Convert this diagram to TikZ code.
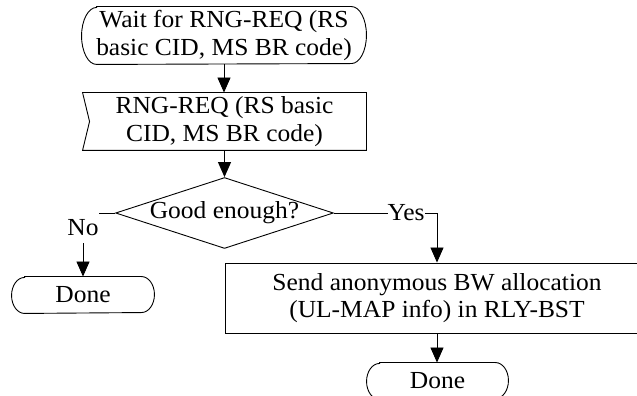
\documentclass[tikz,border=0pt]{standalone}
\usepackage{fontspec}
\setmainfont{Liberation Serif}[FakeStretch=1.04]
\usetikzlibrary{arrows.meta,shapes.geometric}
\newcommand\termpath[3]{\draw ([xshift=#2]#1.north west) -- ([xshift=-#2]#1.north east) arc[start angle=90,end angle=-90,x radius=#2,y radius=#3] -- ([xshift=#2]#1.south west) arc[start angle=270,end angle=90,x radius=#2,y radius=#3] -- cycle;}
\begin{document}
\begin{tikzpicture}[x=1pt,y=1pt,line width=0.9pt,
  txt/.style={font=\fontsize{24.5}{27.5}\selectfont, align=center, inner sep=0pt},
  arr/.style={-{Triangle[length=15pt,width=13pt]}},
  lbl/.style={fill=white, inner sep=0pt, font=\fontsize{24.5}{27.5}\selectfont}]
\useasboundingbox (0,0) rectangle (637,396);
% start terminal
\node[txt, minimum width=284pt, minimum height=57pt] (wait) at (224,360.5) {Wait for RNG-REQ (RS\\basic CID, MS BR code)};
\termpath{wait}{15pt}{28.5pt}
% receive flag
\node[txt, minimum width=283pt, minimum height=57pt] (recv) at (224.5,274.5) {RNG-REQ (RS basic\\CID, MS BR code)};
\draw (recv.north west) -- (recv.north east) -- (recv.south east) -- (recv.south west) -- ([xshift=7pt]recv.west) -- cycle;
% decision
\node[txt, diamond, draw, aspect=3.07, minimum width=215pt, minimum height=70pt] (dec) at (224.5,183) {Good enough?};
% left done
\node[txt, minimum width=142pt, minimum height=36pt] (ldone) at (83,101) {Done};
\termpath{ldone}{13pt}{18pt}
% send box
\node[txt, draw, minimum width=424pt, minimum height=70pt] (send) at (437,98) {Send anonymous BW allocation\\(UL-MAP info) in RLY-BST};
% right done
\node[txt, minimum width=141pt, minimum height=36pt] (rdone) at (437.5,15) {Done};
\termpath{rdone}{13pt}{18pt}
% connectors
\draw[arr] (wait.south) -- (wait.south |- recv.north);
\draw[arr] (recv.south) -- (recv.south |- dec.north);
\draw[arr] (dec.west) -| node[lbl, pos=0.613, minimum height=32pt] (nolbl) {No} (ldone.north);
\draw[arr] (dec.east) -| node[lbl, pos=0.35] (yeslbl) {Yes} (send.north);
\draw[arr] (send.south) -- (send.south |- rdone.north);
\end{tikzpicture}
\end{document}
